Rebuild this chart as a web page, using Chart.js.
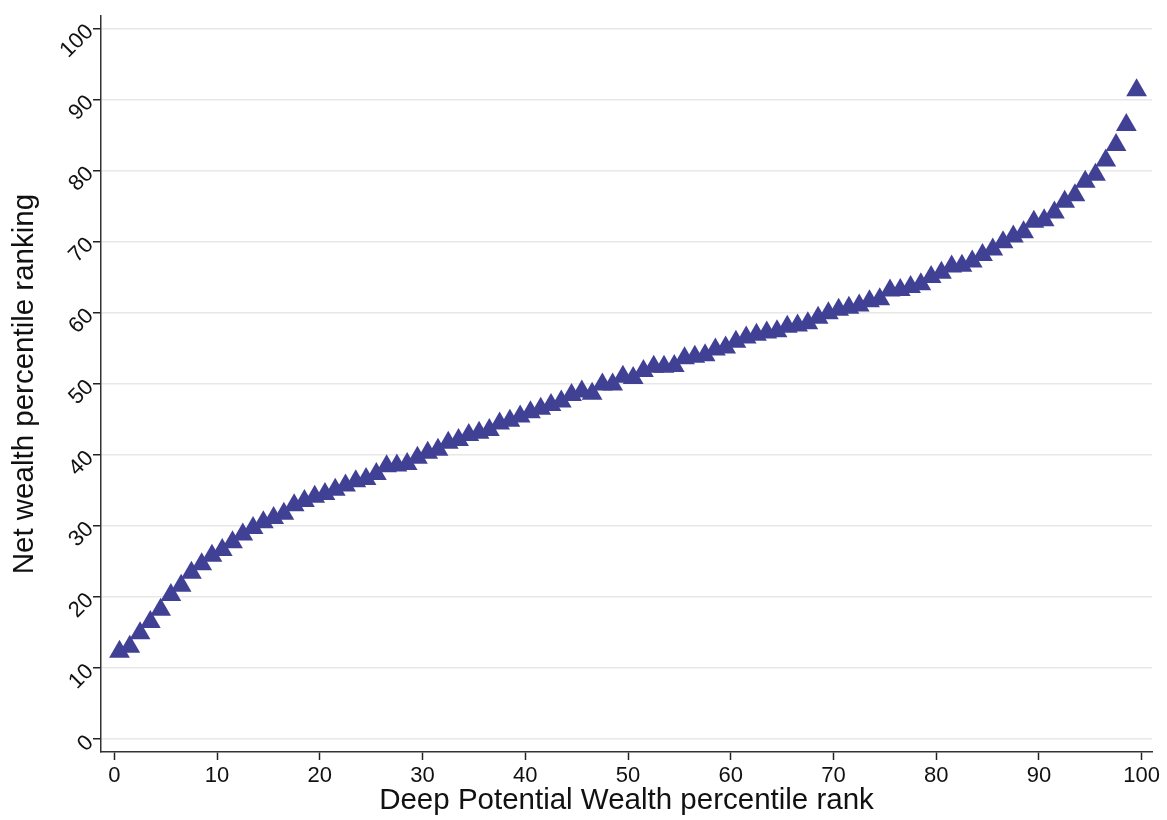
<!DOCTYPE html>
<html>
<head>
<meta charset="utf-8">
<script src="https://cdn.jsdelivr.net/npm/chart.js@4.4.1/dist/chart.umd.min.js"></script>
<style>
  html, body { margin: 0; padding: 0; background: #ffffff; }
  #wrap { width: 1167px; height: 820px; }
</style>
</head>
<body>
<div id="wrap"><canvas id="c" width="1167" height="820"></canvas></div>
<script>
// Deep Potential Wealth percentile rank (x)
const dpwRank = [
  0.5, 1.5, 2.5, 3.5, 4.5, 5.5, 6.5, 7.5, 8.5, 9.5,
  10.5, 11.5, 12.5, 13.5, 14.5, 15.5, 16.5, 17.5, 18.5, 19.5,
  20.5, 21.5, 22.5, 23.5, 24.5, 25.5, 26.5, 27.5, 28.5, 29.5,
  30.5, 31.5, 32.5, 33.5, 34.5, 35.5, 36.5, 37.5, 38.5, 39.5,
  40.5, 41.5, 42.5, 43.5, 44.5, 45.5, 46.5, 47.5, 48.5, 49.5,
  50.5, 51.5, 52.5, 53.5, 54.5, 55.5, 56.5, 57.5, 58.5, 59.5,
  60.5, 61.5, 62.5, 63.5, 64.5, 65.5, 66.5, 67.5, 68.5, 69.5,
  70.5, 71.5, 72.5, 73.5, 74.5, 75.5, 76.5, 77.5, 78.5, 79.5,
  80.5, 81.5, 82.5, 83.5, 84.5, 85.5, 86.5, 87.5, 88.5, 89.5,
  90.5, 91.5, 92.5, 93.5, 94.5, 95.5, 96.5, 97.5, 98.5, 99.5
];
// Net wealth percentile ranking (y)
const netWealthRank = [
  12.3, 13.0, 14.9, 16.5, 18.2, 20.3, 21.6, 23.4, 24.6, 25.8,
  26.6, 27.7, 28.8, 29.7, 30.5, 31.1, 31.7, 32.9, 33.5, 34.1,
  34.5, 35.1, 35.7, 36.3, 36.6, 37.3, 38.4, 38.5, 38.7, 39.6,
  40.3, 40.7, 41.7, 42.1, 42.8, 43.1, 43.5, 44.4, 44.8, 45.4,
  46.0, 46.5, 47.0, 47.5, 48.4, 48.9, 48.6, 49.9, 49.9, 51.0,
  50.8, 51.8, 52.4, 52.4, 52.5, 53.6, 53.8, 54.0, 54.8, 55.1,
  55.9, 56.5, 56.9, 57.2, 57.4, 58.0, 58.2, 58.5, 59.3, 59.9,
  60.4, 60.7, 61.0, 61.6, 61.9, 63.1, 63.2, 63.6, 64.0, 65.0,
  65.6, 66.5, 66.6, 67.2, 68.1, 68.9, 69.9, 70.7, 71.3, 72.8,
  73.0, 74.1, 75.6, 76.5, 78.4, 79.4, 81.4, 83.6, 86.4, 91.3
];
const xTicks = [0, 10, 20, 30, 40, 50, 60, 70, 80, 90, 100];
const yTicks = [0, 10, 20, 30, 40, 50, 60, 70, 80, 90, 100];
const xTitle = 'Deep Potential Wealth percentile rank';
const yTitle = 'Net wealth percentile ranking';

const FONT = '"Liberation Sans", Arial, Helvetica, sans-serif';
const points = dpwRank.map((x, i) => ({ x: x, y: netWealthRank[i] }));

new Chart(document.getElementById('c'), {
  type: 'scatter',
  data: {
    datasets: [{
      data: points,
      pointStyle: 'triangle',
      pointRadius: 12,
      pointHoverRadius: 12,
      backgroundColor: '#404095',
      borderColor: '#404095',
      borderWidth: 0
    }]
  },
  options: {
    responsive: false,
    animation: false,
    devicePixelRatio: 1,
    layout: { padding: { left: 0, right: 15, top: 12, bottom: 0 } },
    plugins: { legend: { display: false }, tooltip: { enabled: false } },
    scales: {
      x: {
        type: 'linear',
        min: -1.3,
        max: 101,
        afterBuildTicks: (s) => { s.ticks = xTicks.map(v => ({ value: v })); },
        afterFit: (s) => { s.height = 68; },
        grid: {
          drawOnChartArea: false,
          drawTicks: true,
          tickLength: 8,
          tickColor: '#222222',
          tickWidth: 1.5
        },
        border: { display: true, color: '#333333', width: 1.5 },
        ticks: {
          color: '#111111',
          font: { family: FONT, size: 22 },
          padding: 3,
          maxRotation: 0,
          minRotation: 0
        },
        title: {
          display: true,
          text: xTitle,
          color: '#111111',
          font: { family: FONT, size: 29.5, lineHeight: 1.2 },
          padding: { top: 0, bottom: 1 }
        }
      },
      y: {
        type: 'linear',
        min: -1.8,
        max: 101.7,
        afterBuildTicks: (s) => { s.ticks = yTicks.map(v => ({ value: v })); },
        afterFit: (s) => { s.width = 101; },
        grid: {
          drawOnChartArea: true,
          color: '#e8e8e8',
          lineWidth: 1.5,
          drawTicks: true,
          tickLength: 8,
          tickColor: '#222222',
          tickWidth: 1.5
        },
        border: { display: true, color: '#333333', width: 1.5 },
        ticks: {
          color: '#111111',
          font: { family: FONT, size: 22 },
          padding: 3,
          minRotation: 45,
          maxRotation: 45
        },
        title: {
          display: true,
          text: yTitle,
          color: '#111111',
          font: { family: FONT, size: 29.5, lineHeight: 1.2 },
          padding: { top: 7, bottom: 0 }
        }
      }
    }
  }
});
</script>
</body>
</html>
